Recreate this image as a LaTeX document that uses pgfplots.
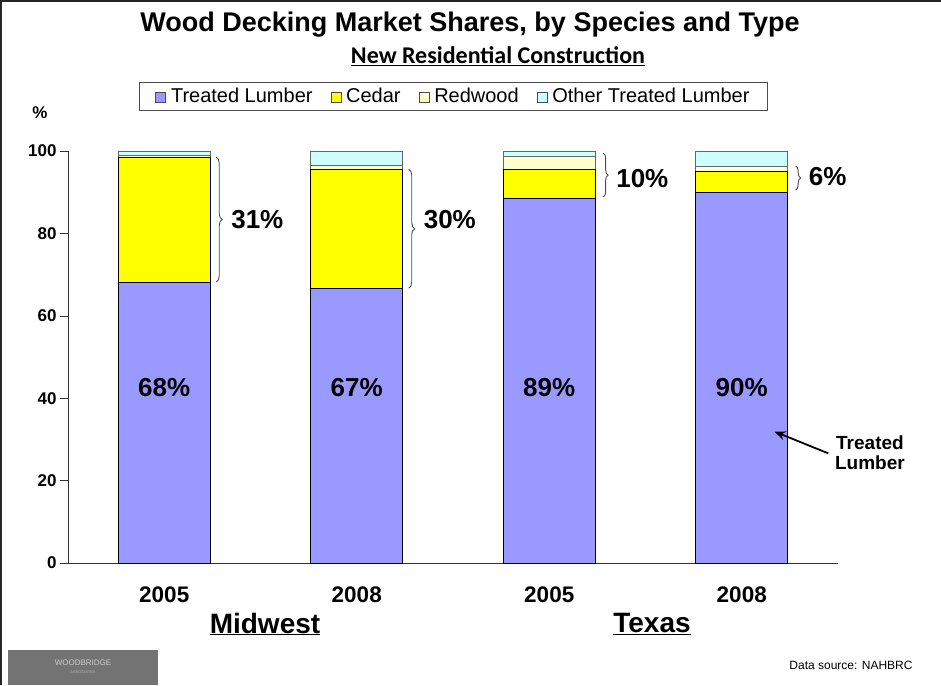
\documentclass[border=0pt]{standalone}
\usepackage{pgfplots}
\pgfplotsset{compat=1.18}
\usepackage{fontspec}
\setmainfont{Liberation Sans}
\newfontfamily\calibri{Carlito}
\usetikzlibrary{decorations.pathreplacing,arrows.meta}
\definecolor{treated}{HTML}{9999FF}
\definecolor{cedar}{HTML}{FFFF00}
\definecolor{redwood}{HTML}{FFFFCC}
\definecolor{othertl}{HTML}{CCFFFF}
\begin{document}
\begin{tikzpicture}[x=1pt,y=1pt]
\path[use as bounding box] (0,0) rectangle (941,685);
\begin{axis}[at={(68pt,122pt)}, anchor=south west, scale only axis,
  width=770pt, height=412pt,
  ybar stacked, bar width=92pt,
  xmin=-0.5, xmax=3.5, ymin=0, ymax=100,
  axis x line*=bottom, axis y line*=left,
  ytick={0,20,40,60,80,100},
  xtick={0,1,2,3}, xticklabels={2005,2008,2005,2008},
  extra x ticks={-0.5,0.5,1.5,2.5,3.5}, extra x tick labels={},
  extra x tick style={tick style={black!80}},
  major tick length=8pt,
  x tick style={draw=none},
  y tick style={black!80},
  tick align=outside,
  axis line style={black!80},
  /pgf/number format/assume math mode=true,
  yticklabel style={font=\fontsize{17}{20}\selectfont\bfseries},
  xticklabel style={font=\fontsize{22.5}{26}\selectfont\bfseries, yshift=-12pt},
  clip=false,
  legend style={at={(rel axis cs:0.5006,1.1335)}, anchor=center, legend columns=4,
    draw=black!70, font=\fontsize{20}{22}\selectfont, inner xsep=16pt, inner ysep=4pt,
    /tikz/every odd column/.append style={column sep=3pt},
    /tikz/every even column/.append style={column sep=16pt}},
  legend image code/.code={\draw[#1,draw=black!70,line width=0.6pt] (0pt,-6pt) rectangle (10pt,4pt);},
]
\addplot[fill=treated, draw=black, line width=0.6pt] coordinates {(0,68.2) (1,66.7) (2,88.6) (3,90.0)};
\addplot[fill=cedar, draw=black, line width=0.6pt] coordinates {(0,30.3) (1,28.9) (2,7.0) (3,5.1)};
\addplot[fill=redwood, draw=black!60, line width=0.6pt] coordinates {(0,0.5) (1,1.0) (2,3.2) (3,1.3)};
\addplot[fill=othertl, draw=black!60, line width=0.6pt] coordinates {(0,1.0) (1,3.4) (2,1.2) (3,3.6)};
\legend{Treated Lumber, Cedar, Redwood, Other Treated Lumber}
% inner labels
\coordinate (l0) at (axis cs:0,42.5);
\coordinate (l1) at (axis cs:1,42.5);
\coordinate (l2) at (axis cs:2,42.5);
\coordinate (l3) at (axis cs:3,42.5);
% braces
\draw[decorate, decoration={brace, amplitude=6pt}, black!70, line width=0.9pt] (axis cs:0.27,98.5) -- (axis cs:0.27,68.2);
\draw[decorate, decoration={brace, amplitude=6pt}, black!70, line width=0.9pt] (axis cs:1.27,95.6) -- (axis cs:1.27,66.7);
\draw[decorate, decoration={brace, amplitude=5pt}, black!70, line width=0.9pt] (axis cs:2.28,99.5) -- (axis cs:2.28,88.8);
\draw[decorate, decoration={brace, amplitude=5pt}, black!70, line width=0.9pt] (axis cs:3.28,96.4) -- (axis cs:3.28,90.5);
\node[anchor=west, font=\fontsize{26}{30}\selectfont\bfseries] at (axis cs:0.33,83.3) {31\%};
\node[anchor=west, font=\fontsize{26}{30}\selectfont\bfseries] at (axis cs:1.33,83.3) {30\%};
\node[anchor=west, font=\fontsize{26}{30}\selectfont\bfseries] at (axis cs:2.33,93.4) {10\%};
\node[anchor=west, font=\fontsize{26}{30}\selectfont\bfseries] at (axis cs:3.33,93.7) {6\%};
% annotation
\node[align=center, font=\fontsize{19}{20}\selectfont\bfseries] at (axis cs:3.666,26.7) {Treated\\Lumber};
\coordinate (a0) at (axis cs:3.45,26.6);
\coordinate (a1) at (axis cs:3.17,31.9);
\end{axis}
\foreach \i/\t in {0/68,1/67,2/89,3/90}
  \node[font=\fontsize{26}{30}\selectfont\bfseries] at (l\i) {\t\%};
\draw[-{Stealth[length=11pt,width=9pt]}, line width=1.8pt] (a0) -- (a1);
\node[font=\fontsize{27}{30}\selectfont\bfseries] at (470,660) {Wood Decking Market Shares, by Species and Type};
\node[font=\calibri\fontsize{24}{28}\selectfont\bfseries] at (498,629) {\underline{New Residential Construction}};
\node[font=\fontsize{17}{20}\selectfont\bfseries] at (40,572) {\%};
\node[font=\fontsize{28}{32}\selectfont\bfseries] at (265,61) {\underline{Midwest}};
\node[font=\fontsize{28}{32}\selectfont\bfseries] at (652,61) {\underline{Texas}};
\node[font=\fontsize{12}{14}\selectfont] at (851,20) {Data source: NAHBRC};
\fill[black!55] (8,0) rectangle (158,35);
\node[text=black!20, font=\fontsize{8}{9}\selectfont] at (83,22) {WOODBRIDGE};
\node[text=black!30, font=\fontsize{4}{5}\selectfont] at (83,13) {ASSOCIATES};
\draw[black!85, line width=2pt] (0,684) -- (941,684);
\draw[black!85, line width=2pt] (1,0) -- (1,685);
\end{tikzpicture}
\end{document}
